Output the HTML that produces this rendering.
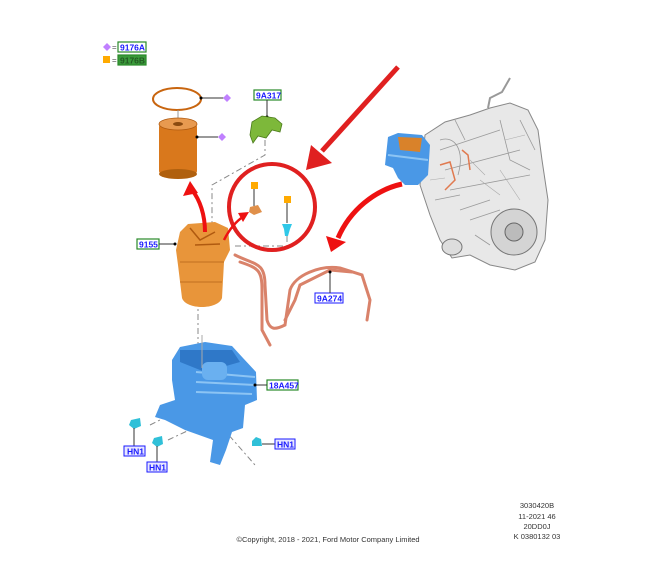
<!DOCTYPE html>
<html><head><meta charset="utf-8"><style>
html,body{margin:0;padding:0;background:#fff;}
svg{display:block;}
text{font-family:"Liberation Sans",sans-serif;}
.lb{font-size:8.5px;font-weight:bold;fill:#1a1aff;}
</style></head><body>
<svg width="661" height="575" viewBox="0 0 661 575" xmlns="http://www.w3.org/2000/svg">
<rect width="661" height="575" fill="#fff"/>
<!-- legend -->
<polygon points="107,43 111,47 107,51 103,47" fill="#c080ff"/>
<text x="112" y="50" font-size="8" fill="#555">=</text>
<rect x="118" y="42" width="28" height="10" fill="#fff" stroke="#2a8a2a" stroke-width="1.2"/>
<text x="120" y="50.5" class="lb">9176A</text>
<rect x="103" y="56" width="7" height="7" fill="#ffaa00"/>
<text x="112" y="63" font-size="8" fill="#555">=</text>
<rect x="118" y="55" width="28" height="10" fill="#3a9a3a" stroke="#2a8a2a" stroke-width="1.2"/>
<text x="120" y="63.5" class="lb" style="fill:#235a23">9176B</text>

<!-- dashed leaders -->
<g stroke="#888" stroke-width="1" fill="none" stroke-dasharray="6,3,2,3">
<path d="M265,140 L265,155 L212,185 L212,245"/>
<path d="M198,300 L198,345"/>
<path d="M235,246 L287,246 L287,228"/>
<path d="M150,425 L180,410 M168,440 L200,425 M220,425 L255,465"/>
</g>

<!-- O-ring -->
<ellipse cx="177" cy="99" rx="24" ry="11" fill="none" stroke="#c8650f" stroke-width="2"/>
<line x1="201" y1="98" x2="224" y2="98" stroke="#333"/><circle cx="201" cy="98" r="1.5" fill="#000"/>
<polygon points="227,94 231,98 227,102 223,98" fill="#c080ff"/>
<line x1="178" y1="110" x2="178" y2="120" stroke="#999"/>
<!-- filter -->
<rect x="159" y="124" width="38" height="50" rx="3" fill="#d9781c"/>
<ellipse cx="178" cy="124" rx="19" ry="6" fill="#e89a50" stroke="#b05a10" stroke-width="0.8"/>
<ellipse cx="178" cy="124" rx="5" ry="2" fill="#8a4a10"/>
<ellipse cx="178" cy="174" rx="19" ry="5" fill="#b0600e"/>
<line x1="197" y1="137" x2="218" y2="137" stroke="#333"/><circle cx="197" cy="137" r="1.5" fill="#000"/>
<polygon points="222,133 226,137 222,141 218,137" fill="#c080ff"/>

<!-- 9A317 -->
<rect x="254" y="90" width="27" height="10" fill="#fff" stroke="#2a8a2a" stroke-width="1.2"/>
<text x="256" y="98.5" class="lb">9A317</text>
<line x1="267" y1="100" x2="267" y2="117" stroke="#333"/><circle cx="267" cy="117" r="1.5" fill="#000"/>
<path d="M252,122 L262,116 L275,118 L282,124 L280,132 L272,130 L266,138 L258,136 L253,143 L250,135 Z" fill="#7db83a" stroke="#4a7a1a" stroke-width="0.8"/>

<!-- circle group -->
<circle cx="272" cy="207" r="43" fill="none" stroke="#e02020" stroke-width="4"/>
<rect x="251" y="182" width="7" height="7" fill="#ffaa00"/>
<line x1="254" y1="189" x2="254" y2="206" stroke="#333"/>
<path d="M250,207 L258,205 L262,212 L254,215 L249,212 Z" fill="#e0904a"/>
<rect x="284" y="196" width="7" height="7" fill="#ffaa00"/>
<line x1="287" y1="203" x2="287" y2="223" stroke="#333"/>
<path d="M282,224 L292,224 L290,229 L288,236 L285,236 L284,229 Z" fill="#30c8e8"/>

<!-- housing 9155 -->
<rect x="137" y="239" width="22" height="10" fill="#fff" stroke="#2a8a2a" stroke-width="1.2"/>
<text x="139" y="247.5" class="lb">9155</text>
<line x1="159" y1="244" x2="175" y2="244" stroke="#333"/><circle cx="175" cy="244" r="1.5" fill="#000"/>
<path d="M180,232 L188,224 L215,222 L228,228 L230,250 L224,262 L222,298 C218,310 186,310 182,298 L178,265 L176,250 Z" fill="#e8953a"/>
<path d="M180,262 L224,262 M180,282 L222,282" stroke="#c07020" stroke-width="1"/>
<path d="M190,228 L200,240 L215,232 M195,245 L220,244" stroke="#b05a10" fill="none" stroke-width="1.5"/>

<!-- red arrows -->
<path d="M205,232 C205,215 200,200 192,190" stroke="#ee1111" stroke-width="4" fill="none"/>
<polygon points="190,181 183,196 198,193" fill="#ee1111"/>
<path d="M224,240 C230,228 238,220 244,216" stroke="#ee1111" stroke-width="2.5" fill="none"/>
<polygon points="249,212 238,213 243,222" fill="#ee1111"/>
<line x1="398" y1="67" x2="322" y2="151" stroke="#e02020" stroke-width="5"/>
<polygon points="306,170 311,145 332,163" fill="#e02020"/>
<path d="M402,184 C375,190 350,210 338,238" stroke="#ee1111" stroke-width="5" fill="none"/>
<polygon points="331,252 326,236 346,242" fill="#ee1111"/>

<!-- pipes 9A274 -->
<g stroke="#d9826a" stroke-width="3" fill="none" stroke-linecap="round">
<path d="M235,255 C255,265 265,262 265,285 L267,320 C270,330 275,330 285,325 L290,290 C295,275 320,265 340,268 L362,275 L370,300 L367,320"/>
<path d="M240,262 C258,268 262,270 262,290 L262,330 L270,345"/>
<path d="M285,320 L295,300 L300,285 L330,270 L352,272"/>
</g>
<rect x="315" y="293" width="28" height="10" fill="#fff" stroke="#1a1aff" stroke-width="1"/>
<text x="317" y="301.5" class="lb">9A274</text>
<line x1="330" y1="293" x2="330" y2="272" stroke="#333"/><circle cx="330" cy="272" r="1.5" fill="#000"/>

<!-- bracket 18A457 -->
<path d="M172,360 L180,347 L205,342 L232,346 L243,358 L256,372 L257,400 L245,405 L243,428 L232,432 L226,450 L220,465 L210,462 L213,440 L185,430 L165,420 L155,417 L160,405 L175,400 L172,380 Z" fill="#4a98e6"/>
<path d="M180,350 L232,350 L240,362 L205,372 L180,362 Z" fill="#2f78c8"/>
<path d="M196,372 L255,377 M196,382 L255,385 M196,392 L252,394" stroke="#8cc4f4" stroke-width="2"/>
<rect x="202" y="362" width="25" height="18" rx="6" fill="#6ab0f0"/>
<line x1="202" y1="335" x2="202" y2="368" stroke="#aaa"/>
<rect x="267" y="380" width="31" height="10" fill="#fff" stroke="#2a8a2a" stroke-width="1.2"/>
<text x="269" y="388.5" class="lb">18A457</text>
<line x1="255" y1="385" x2="267" y2="385" stroke="#333"/><circle cx="255" cy="385" r="1.5" fill="#000"/>

<!-- HN1 clips -->
<path d="M131,420 L140,418 L141,426 L134,429 L129,425 Z" fill="#30c0d8"/>
<line x1="134" y1="428" x2="134" y2="446" stroke="#333"/>
<rect x="124" y="446" width="21" height="10" fill="#e8e8ff" stroke="#1a1aff"/>
<text x="127" y="454.5" class="lb">HN1</text>
<path d="M154,438 L162,436 L163,444 L157,447 L152,443 Z" fill="#30c0d8"/>
<line x1="157" y1="446" x2="157" y2="462" stroke="#333"/>
<rect x="147" y="462" width="20" height="10" fill="#e8e8ff" stroke="#1a1aff"/>
<text x="149" y="470.5" class="lb">HN1</text>
<path d="M252,441 L256,437 L261,439 L262,446 L252,446 Z" fill="#30c0d8"/>
<line x1="262" y1="444" x2="275" y2="444" stroke="#333"/>
<rect x="275" y="439" width="20" height="10" fill="#e8e8ff" stroke="#1a1aff"/>
<text x="277" y="447.5" class="lb">HN1</text>

<!-- engine -->
<path d="M425,135 L445,122 L470,115 L490,108 L510,103 L528,110 L538,130 L542,160 L548,200 L545,240 L535,262 L515,270 L490,265 L470,255 L452,258 L440,240 L430,215 L420,185 Z" fill="#e8e8e8" stroke="#888" stroke-width="1"/>
<circle cx="514" cy="232" r="23" fill="#d4d4d4" stroke="#777"/>
<circle cx="514" cy="232" r="9" fill="#bbb" stroke="#666"/>
<ellipse cx="452" cy="247" rx="10" ry="8" fill="#ddd" stroke="#777"/>
<path d="M488,108 L490,98 L502,92 L510,78" stroke="#999" stroke-width="2" fill="none"/>
<g stroke="#999" stroke-width="0.8" fill="none">
<path d="M440,150 L500,130 M445,170 L520,150 M450,190 L530,175 M460,210 L490,200 M500,120 L510,160 L530,170"/>
<path d="M440,140 C455,135 465,150 458,175"/>
<path d="M470,220 L500,210 M435,200 L460,195 M475,235 L490,245 M520,120 L535,150 M455,120 L465,140"/>
</g>
<g stroke="#aaa" stroke-width="0.6" fill="none">
<path d="M430,180 L445,178 M480,180 L500,195 M505,140 L525,135 M470,160 L485,175 M500,170 L520,200"/>
</g>
<path d="M440,165 L450,162 L455,180 L445,190 M462,150 L468,155 L470,170" stroke="#e07a50" stroke-width="1.5" fill="none"/>
<path d="M388,137 L398,133 L422,135 L430,145 L428,175 L418,185 L405,185 L398,178 L393,168 L385,165 Z" fill="#4a98e6"/>
<path d="M398,137 L422,138 L420,152 L400,150 Z" fill="#d9822a"/>
<path d="M388,155 L428,160" stroke="#8cc4f4" stroke-width="2"/>

<!-- footer -->
<g font-size="7.5" fill="#333" text-anchor="middle">
<text x="537" y="508">3030420B</text>
<text x="537" y="519">11-2021 46</text>
<text x="537" y="529">20DD0J</text>
<text x="537" y="539">K 0380132 03</text>
<text x="328" y="542">©Copyright, 2018 - 2021, Ford Motor Company Limited</text>
</g>
</svg>
</body></html>
